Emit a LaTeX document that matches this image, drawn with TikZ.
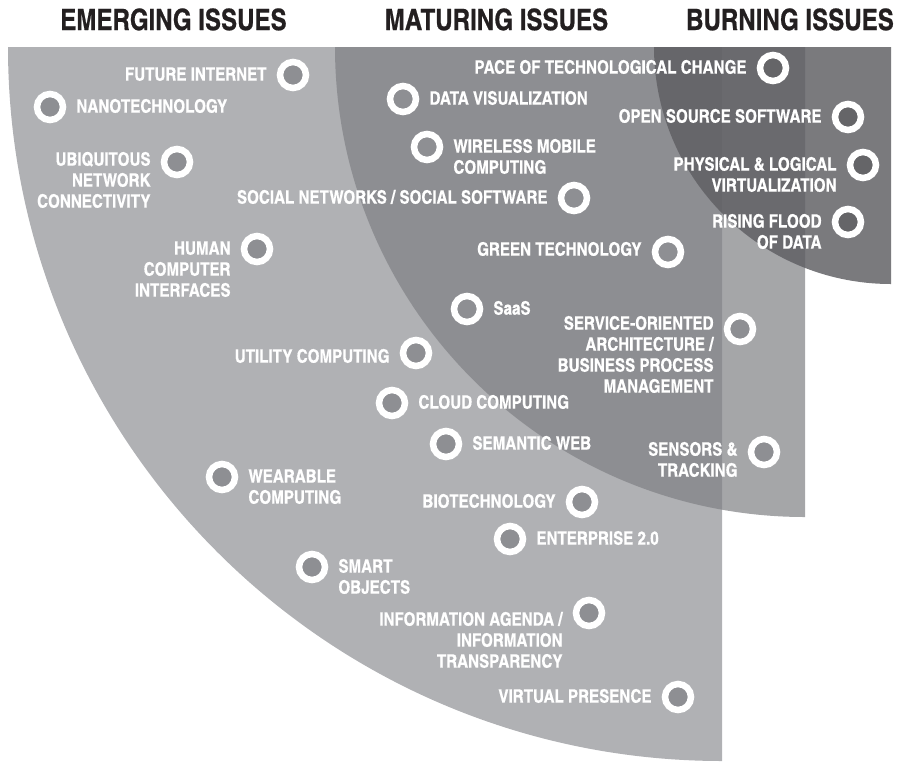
\documentclass[tikz,border=0pt]{standalone}
\usepackage{fontspec}
\usetikzlibrary{positioning}
\newfontfamily\heroscn{texgyreheroscn-bold.otf}[FakeBold=0.6]

\definecolor{emerging}{RGB}{176,177,180}
\definecolor{maturing}{RGB}{128,129,133}
\definecolor{burning}{RGB}{95,95,99}
\definecolor{dotgray}{RGB}{142,143,147}
\definecolor{dotdark}{RGB}{101,101,104}
\definecolor{headblack}{RGB}{35,31,32}

% stacked labels, first baseline on top
\newcommand{\rlines}[1]{\begin{tabular}[t]{@{}r@{}}#1\end{tabular}}
\newcommand{\llines}[1]{\begin{tabular}[t]{@{}l@{}}#1\end{tabular}}

\tikzset{
  heading/.style={font=\heroscn\fontsize{29.4}{32}\selectfont, text=headblack, inner sep=0pt, anchor=base},
  dot/.style={circle, draw=white, line width=6.5pt, fill=dotgray, minimum size=26pt, inner sep=0pt},
  hotdot/.style={dot, fill=dotdark},
  tag/.style={font=\heroscn\fontsize{18.5}{21}\selectfont, text=white, inner sep=0pt, yshift=-5.6pt},
  ltag/.style={tag, anchor=base east},
  rtag/.style={tag, anchor=base west}
}

\begin{document}
\begin{tikzpicture}[x=1pt, y=-1pt]
    \useasboundingbox (0,0) rectangle (900,761);

    % the three quarter discs
    \begin{scope}
        \clip (0,47) rectangle (722,761);
        \fill[emerging] (722,47) circle[radius=714];
    \end{scope}
    \begin{scope}
        \clip (0,47) rectangle (805,761);
        \fill[maturing, fill opacity=0.71] (805,47) circle[radius=470];
    \end{scope}
    \begin{scope}
        \clip (0,47) rectangle (891,761);
        \fill[burning, fill opacity=0.83] (891,47) circle[radius=237];
    \end{scope}

    \node[heading] (emerg) at (173.5,30) {EMERGING ISSUES};
    \node[heading] (matur) at (496.5,30) {MATURING ISSUES};
    \node[heading] (burn) at (790,30) {BURNING ISSUES};

    % emerging
    \node[dot] (fi) at (293,75) {};
    \node[left=10pt of fi, ltag] (fi-t) {FUTURE INTERNET};
    \node[dot] (nano) at (50,107) {};
    \node[right=10pt of nano, rtag] (nano-t) {NANOTECHNOLOGY};
    \node[dot] (ubiq) at (177,162) {};
    \node[left=10pt of ubiq, ltag, yshift=2pt] (ubiq-t) {\rlines{UBIQUITOUS\\NETWORK\\CONNECTIVITY}};
    \node[dot] (hci) at (257,249) {};
    \node[left=10pt of hci, ltag] (hci-t) {\rlines{HUMAN\\COMPUTER\\INTERFACES}};
    \node[dot] (util) at (416,353) {};
    \node[left=10pt of util, ltag, yshift=-4pt] (util-t) {UTILITY COMPUTING};
    \node[dot] (cloud) at (392,403) {};
    \node[right=10pt of cloud, rtag] (cloud-t) {CLOUD COMPUTING};
    \node[dot] (sem) at (446,444) {};
    \node[right=10pt of sem, rtag] (sem-t) {SEMANTIC WEB};
    \node[dot] (wear) at (222,477) {};
    \node[right=10pt of wear, rtag] (wear-t) {\llines{WEARABLE\\COMPUTING}};
    \node[dot] (bio) at (582,502) {};
    \node[left=10pt of bio, ltag] (bio-t) {BIOTECHNOLOGY};
    \node[dot] (ent) at (510,539) {};
    \node[right=10pt of ent, rtag] (ent-t) {ENTERPRISE 2.0};
    \node[dot] (smart) at (312,567) {};
    \node[right=10pt of smart, rtag] (smart-t) {\llines{SMART\\OBJECTS}};
    \node[dot] (info) at (589,613) {};
    \node[left=10pt of info, ltag, yshift=-7pt] (info-t) {\rlines{INFORMATION AGENDA /\\INFORMATION\\TRANSPARENCY}};
    \node[dot] (virt) at (678,697) {};
    \node[left=10pt of virt, ltag] (virt-t) {VIRTUAL PRESENCE};

    % maturing
    \node[dot] (dv) at (403,99) {};
    \node[right=10pt of dv, rtag] (dv-t) {DATA VISUALIZATION};
    \node[dot] (wmc) at (427,147) {};
    \node[right=10pt of wmc, rtag] (wmc-t) {\llines{WIRELESS MOBILE\\COMPUTING}};
    \node[dot] (sns) at (574,198) {};
    \node[left=10pt of sns, ltag] (sns-t) {SOCIAL NETWORKS / SOCIAL SOFTWARE};
    \node[dot] (green) at (668,252) {};
    \node[left=10pt of green, ltag, yshift=2pt] (green-t) {GREEN TECHNOLOGY};
    \node[dot] (saas) at (467,309) {};
    \node[right=10pt of saas, rtag] (saas-t) {SaaS};
    \node[dot] (soa) at (740,329) {};
    \node[left=10pt of soa, ltag, yshift=5pt] (soa-t) {\rlines{SERVICE-ORIENTED\\ARCHITECTURE /\\BUSINESS PROCESS\\MANAGEMENT}};
    \node[dot] (sens) at (764,452) {};
    \node[left=10pt of sens, ltag, yshift=2pt] (sens-t) {\rlines{SENSORS \&\\TRACKING}};

    % burning
    \node[hotdot] (pace) at (773,68) {};
    \node[left=10pt of pace, ltag] (pace-t) {PACE OF TECHNOLOGICAL CHANGE};
    \node[hotdot] (oss) at (848,117) {};
    \node[left=10pt of oss, ltag] (oss-t) {OPEN SOURCE SOFTWARE};
    \node[hotdot] (plv) at (863,165) {};
    \node[left=10pt of plv, ltag] (plv-t) {\rlines{PHYSICAL \& LOGICAL\\VIRTUALIZATION}};
    \node[hotdot] (flood) at (848,222) {};
    \node[left=10pt of flood, ltag] (flood-t) {\rlines{RISING FLOOD\\OF DATA}};
\end{tikzpicture}
\end{document}
